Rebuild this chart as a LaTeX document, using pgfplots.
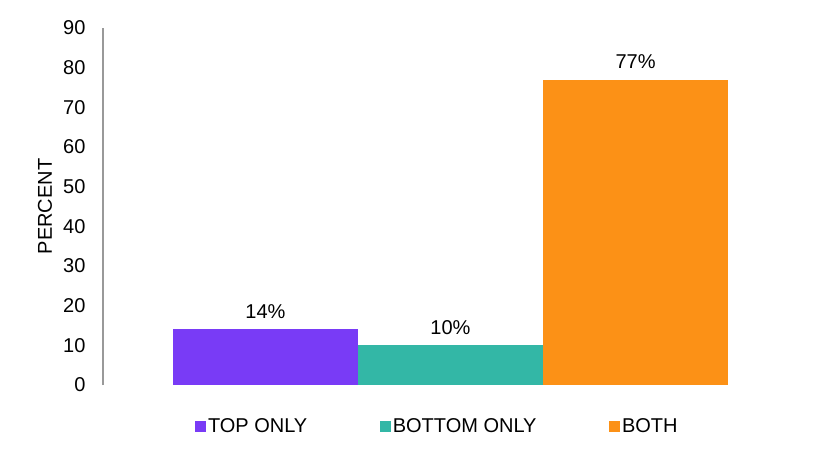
\documentclass[border=0pt]{standalone}
\usepackage{fontspec}
\setmainfont{Liberation Sans}
\usepackage{pgfplots}
\pgfplotsset{compat=1.18}
\definecolor{topc}{HTML}{793BF6}
\definecolor{botc}{HTML}{33B7A6}
\definecolor{bothc}{HTML}{FC9116}

\begin{document}
\begin{tikzpicture}[font=\fontsize{20bp}{24bp}\selectfont]
\path[use as bounding box] (0,0) rectangle (825bp,469bp);
\begin{axis}[
  at={(103bp,84bp)}, anchor=south west,
  scale only axis, width=695bp, height=357bp,
  xmin=-0.878, xmax=2.878, ymin=0, ymax=90,
  ytick={0,10,...,90}, xtick=\empty,
  axis x line=none, axis y line*=left,
  y axis line style={draw=black!40, line width=1.2pt, -},
  major tick length=0pt,
  /pgf/number format/assume math mode=true,
  yticklabel style={xshift=-14bp},
  ylabel={PERCENT},
  ylabel style={at={(axis description cs:-0.0835,0.5)}, anchor=center},
  ybar, bar width=185bp, bar shift=0pt,
  every axis plot/.append style={draw=none},
  nodes near coords={\pgfmathprintnumber{\pgfplotspointmeta}\%},
  every node near coord/.append style={yshift=7bp, text=black},
  legend columns=3,
  legend style={draw=none, at={(0.481,-0.115)}, anchor=center,
    /tikz/every even column/.append style={column sep=70.5bp},
    nodes={inner sep=2bp}},
  legend image code/.code={\fill[#1] (0bp,-5.5bp) rectangle (11bp,5.5bp);},
]
\addplot[fill=topc] coordinates {(0,14)};
\addlegendentry{TOP ONLY}
\addplot[fill=botc] coordinates {(1,10)};
\addlegendentry{BOTTOM ONLY}
\addplot[fill=bothc] coordinates {(2,77)};
\addlegendentry{BOTH}
\end{axis}
\end{tikzpicture}
\end{document}
